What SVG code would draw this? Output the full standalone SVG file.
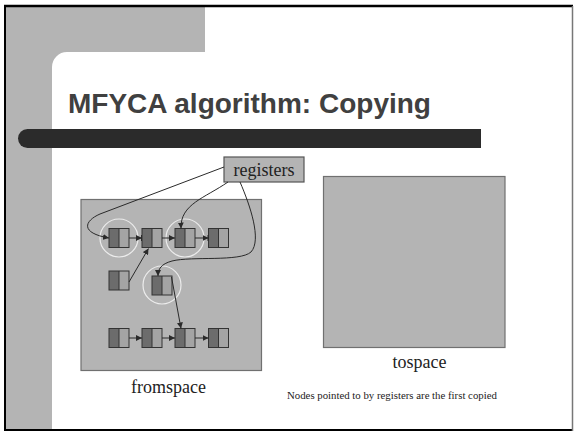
<svg xmlns="http://www.w3.org/2000/svg" width="574" height="433" viewBox="0 0 574 433">
<style>
.space{fill:#b4b4b4;stroke:#707070;stroke-width:1.2}
.lbl{font-family:"Liberation Serif","Times New Roman",serif;font-size:18px;fill:#222;text-anchor:middle}
.dk{fill:#6c6c6c}
.lt{fill:#a4a4a4}
.nb{fill:none;stroke:#333;stroke-width:1}
.ring{fill:none;stroke:#ececec;stroke-width:1.2}
.edge{fill:none;stroke:#2a2a2a;stroke-width:1;marker-end:url(#ah)}
</style>
<defs>
<marker id="ah" viewBox="0 0 10 10" refX="10" refY="5" markerWidth="6" markerHeight="6" markerUnits="userSpaceOnUse" orient="auto">
<path d="M0,0 L10,5 L0,10 Z" fill="#2a2a2a"/>
</marker>
<g id="cell">
<rect x="0" y="0" width="10" height="19" class="dk"/>
<rect x="10" y="0" width="10" height="19" class="lt"/>
<rect x="0" y="0" width="20" height="19" class="nb"/>
<line x1="10" y1="0" x2="10" y2="19" stroke="#333" stroke-width="1"/>
</g>
</defs>
<rect width="574" height="433" fill="#fff"/>
<path d="M6,7 H205 V52 H67 A15 15 0 0 0 52 67 V429 H6 Z" fill="#b4b4b4"/>
<line x1="4" y1="6" x2="573" y2="6" stroke="#000" stroke-width="2.5"/>
<line x1="5" y1="5" x2="5" y2="431" stroke="#000" stroke-width="2"/>
<line x1="4" y1="430" x2="573" y2="430" stroke="#000" stroke-width="2"/>
<line x1="572.5" y1="6" x2="572.5" y2="431" stroke="#777" stroke-width="1.5"/>
<path d="M27.5,129 H481 V148 H27.5 A9.5 9.5 0 0 1 27.5 129 Z" fill="#2b2b2b"/>
<text x="68" y="113" font-family="'Liberation Sans',Arial,sans-serif" font-size="28" font-weight="bold" fill="#404040">MFYCA algorithm: Copying</text>

<g id="fromspace">
<rect x="81" y="199.5" width="180.5" height="171" class="space"/>
<text x="168.5" y="393" class="lbl">fromspace</text>
</g>
<g id="tospace">
<rect x="323.5" y="176.5" width="181.5" height="171" class="space"/>
<text x="419.5" y="368" class="lbl">tospace</text>
</g>
<g id="registers">
<rect x="224" y="157" width="80" height="25" fill="#b4b4b4" stroke="#555" stroke-width="1.2"/>
<text x="264" y="176" class="lbl">registers</text>
</g>

<g id="rings">
<circle cx="119" cy="238" r="19" class="ring"/>
<circle cx="185" cy="238" r="19" class="ring"/>
<circle cx="162" cy="285" r="19" class="ring"/>
</g>

<g id="n1"><use href="#cell" x="109" y="228.5"/></g>
<g id="n2"><use href="#cell" x="142" y="228.5"/></g>
<g id="n3"><use href="#cell" x="175" y="228.5"/></g>
<g id="n4"><use href="#cell" x="208.5" y="228.5"/></g>
<g id="n5"><use href="#cell" x="109" y="271"/></g>
<g id="n6"><use href="#cell" x="152" y="276"/></g>
<g id="n7"><use href="#cell" x="109" y="328.5"/></g>
<g id="n8"><use href="#cell" x="142" y="328.5"/></g>
<g id="n9"><use href="#cell" x="175" y="328.5"/></g>
<g id="n10"><use href="#cell" x="208.5" y="328.5"/></g>

<g id="connectors">
<path class="edge" d="M129,238 H142"/>
<line x1="141.5" y1="235" x2="141.5" y2="241" stroke="#2a2a2a"/>
<path class="edge" d="M162,238 H175"/>
<path class="edge" d="M195,238 H208.5"/>
<line x1="208" y1="235" x2="208" y2="241" stroke="#2a2a2a"/>
<path class="edge" d="M129,338 H142"/>
<path class="edge" d="M162,338 H175"/>
<path class="edge" d="M195,338 H208.5"/>
<path class="edge" d="M129,282 L148.5,248.5"/>
<path class="edge" d="M171.5,277 L181,328.5"/>
<path class="edge" d="M224,167 L100,214 C84,221 80,233 109,238"/>
<path class="edge" d="M228,182 C205,198 180,204 181,228.5"/>
<path class="edge" d="M240,182 C250,205 262,240 251,252 C240,262 192,256 172,261 C161,264 158,269 158,276"/>
</g>

<text x="287" y="399" font-family="'Liberation Serif','Times New Roman',serif" font-size="10.8" fill="#222">Nodes pointed to by registers are the first copied</text>
</svg>
